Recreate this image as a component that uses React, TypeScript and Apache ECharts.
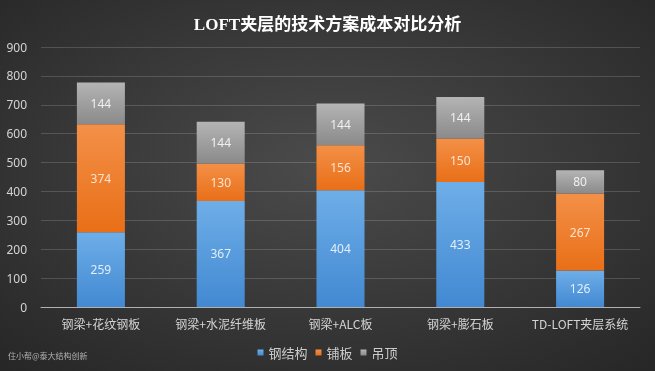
import React, { useEffect, useRef } from "react";
import * as echarts from "echarts";

const categories = ["钢梁+花纹钢板", "钢梁+水泥纤维板", "钢梁+ALC板", "钢梁+膨石板", "TD-LOFT夹层系统"];
const steelValues = [259, 367, 404, 433, 126];
const deckValues = [374, 130, 156, 150, 267];
const ceilingValues = [144, 144, 144, 144, 80];
const seriesNames = ["钢结构", "铺板", "吊顶"];
const titleText = "LOFT夹层的技术方案成本对比分析";
const watermark = "住小帮@泰大结构创新";

const grad = (top: string, bottom: string) =>
  new echarts.graphic.LinearGradient(0, 0, 0, 1, [
    { offset: 0, color: top },
    { offset: 1, color: bottom },
  ]);

export default function App() {
  const ref = useRef<HTMLDivElement>(null);
  useEffect(() => {
    if (!ref.current) return;
    const chart = echarts.init(ref.current, null, { renderer: "svg" });
    const mk = (name: string, data: number[], top: string, bottom: string, legendColor: string, labelColor: string) => ({
      name,
      type: "bar",
      stack: "total",
      barWidth: 48,
      data,
      itemStyle: { color: grad(top, bottom) },
      label: { show: true, position: "inside", color: labelColor, fontSize: 12, fontFamily: "Noto Sans, sans-serif" },
      emphasis: { disabled: true },
      color: legendColor,
    });
    chart.setOption({
      animation: false,
      backgroundColor: new echarts.graphic.RadialGradient(0.5, 0.45, 0.75, [
        { offset: 0, color: "#4b4b4b" },
        { offset: 1, color: "#262626" },
      ]),
      title: {
        text: titleText,
        left: "center",
        top: 11,
        textStyle: { color: "#ffffff", fontSize: 17, fontWeight: "bold", fontFamily: "Liberation Serif, Noto Sans CJK SC, serif" },
      },
      legend: {
        data: seriesNames,
        top: 341,
        left: "center",
        icon: "rect",
        itemWidth: 6,
        itemHeight: 6,
        itemGap: 8,
        textStyle: { color: "#cccccc", fontSize: 13, fontFamily: "Noto Sans CJK SC, sans-serif" },
      },
      grid: { left: 41, right: 15, top: 47, bottom: 64, containLabel: false },
      xAxis: {
        type: "category",
        data: categories,
        axisLine: { lineStyle: { color: "#b0b0b0", width: 1 } },
        axisTick: { show: false },
        axisLabel: { interval: 0, color: "#d4d4d4", fontSize: 12, margin: 10, fontFamily: "Noto Sans CJK SC, sans-serif" },
      },
      yAxis: {
        type: "value",
        min: 0,
        max: 900,
        interval: 100,
        axisLine: { show: false },
        axisTick: { show: false },
        axisLabel: { color: "#d4d4d4", fontSize: 12, margin: 14, fontFamily: "Noto Sans, sans-serif" },
        splitLine: { lineStyle: { color: "rgba(255,255,255,0.16)", width: 1 } },
      },
      graphic: [
        {
          type: "text",
          left: 8,
          top: 351,
          style: { text: watermark, fill: "#b0b0b0", fontSize: 8, fontFamily: "Noto Sans CJK SC, sans-serif" },
        },
      ],
      series: [
        mk(seriesNames[0], steelValues, "#6eaee8", "#4289d2", "#5b9bd5", "#e2eefa"),
        mk(seriesNames[1], deckValues, "#f39048", "#e96f17", "#ed7d31", "#fde4d0"),
        mk(seriesNames[2], ceilingValues, "#b4b4b4", "#8a8a8a", "#a5a5a5", "#f0f0f0"),
      ],
    });
    return () => chart.dispose();
  }, []);
  return <div ref={ref} style={{ position: "fixed", left: 0, top: 0, width: 655, height: 371 }} />;
}
